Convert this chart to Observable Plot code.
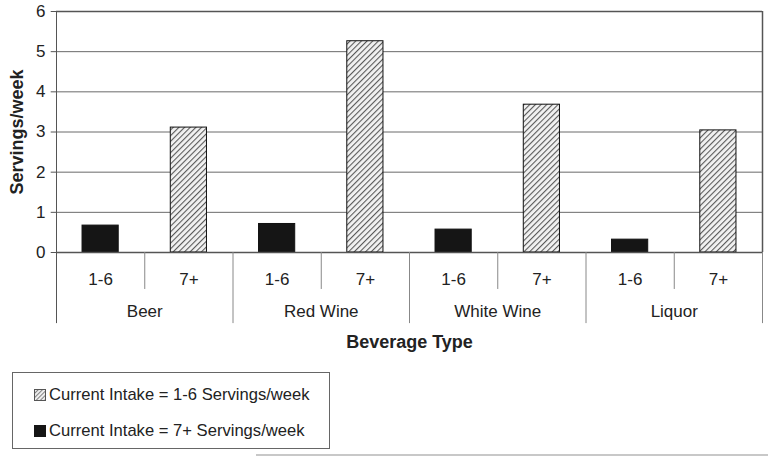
<!DOCTYPE html>
<html>
<head>
<meta charset="utf-8">
<script src="https://cdn.jsdelivr.net/npm/d3@7"></script>
<script src="https://cdn.jsdelivr.net/npm/@observablehq/plot@0.6"></script>
<style>
  html, body { margin: 0; padding: 0; background: #fff; }
  body { position: relative; width: 768px; height: 457px; overflow: hidden; font-family: "Liberation Sans", Arial, sans-serif; }
  #legend { position: absolute; left: 12px; top: 372px; width: 318px; height: 77px; border: 1px solid #666; box-sizing: border-box; font-size: 16.6px; color: #222; }
  .item { position: absolute; left: 21px; display: flex; align-items: center; line-height: 20px; }
  .sw { width: 12px; height: 12px; margin-right: 3px; box-sizing: border-box; flex: none; }
  #bottomline { position: absolute; left: 256px; top: 454px; width: 512px; height: 2px; background: #c8c8c8; }
</style>
</head>
<body>
<div id="chart"></div>
<div id="legend">
  <div class="item" style="top:12px"><svg class="sw" width="12" height="12"><defs><pattern id="hatchL" patternUnits="userSpaceOnUse" width="3" height="3" patternTransform="rotate(45)"><rect width="3" height="3" fill="#eee"/><line x1="0" y1="0" x2="0" y2="3" stroke="#666" stroke-width="1.6"/></pattern></defs><rect x="0.5" y="0.5" width="11" height="11" fill="url(#hatchL)" stroke="#555"/></svg><span>Current Intake = 1-6 Servings/week</span></div>
  <div class="item" style="top:48px"><div class="sw" style="background:#151515"></div><span>Current Intake = 7+ Servings/week</span></div>
</div>
<div id="bottomline"></div>
<script>
const beverages = ["Beer", "Red Wine", "White Wine", "Liquor"];
const intakeLabels = ["1-6", "7+"];
const values16 = [0.67, 0.71, 0.57, 0.32];
const values7 = [3.11, 5.26, 3.68, 3.04];
const yTicks = [0, 1, 2, 3, 4, 5, 6];
const axisTitleX = "Beverage Type";
const axisTitleY = "Servings/week";

const rows = [];
beverages.forEach((b, bi) => {
  rows.push({beverage: b, intake: intakeLabels[0], value: values16[bi], i: bi * 2});
  rows.push({beverage: b, intake: intakeLabels[1], value: values7[bi], i: bi * 2 + 1});
});
const groups = beverages.map((b, bi) => ({beverage: b, i: bi * 2}));
const pad = 0.295;

const plot = Plot.plot({
  width: 768,
  height: 360,
  marginLeft: 56,
  marginRight: 6,
  marginTop: 11,
  marginBottom: 108,
  style: {fontFamily: "'Liberation Sans', Arial, sans-serif", fontSize: "17px", color: "#222", background: "#fff", overflow: "visible"},
  x: {type: "linear", domain: [0, 8], axis: null},
  y: {domain: [0, 6], axis: null},
  marks: [
    Plot.ruleY(yTicks.filter(t => t > 0 && t < 6), {stroke: "#6a6a6a", strokeWidth: 1}),
    Plot.rectY(rows, {
      x1: d => d.i + pad, x2: d => d.i + 1 - pad, y1: 0, y2: "value",
      fill: d => d.intake === "1-6" ? "#151515" : "url(#hatch)",
      stroke: "#111", strokeWidth: 1
    }),
    Plot.ruleY([6], {stroke: "#555", strokeWidth: 1.5}),
    Plot.ruleY([0], {stroke: "#555", strokeWidth: 1.5}),
    Plot.ruleX([8], {y1: 0, y2: 6, stroke: "#555", strokeWidth: 1.5}),
    Plot.ruleX([0], {y1: -1.77, y2: 6, stroke: "#555", strokeWidth: 1}),
    Plot.ruleX(groups, {x: d => d.i + 1, y1: 0, y2: -0.92, stroke: "#888", strokeWidth: 1}),
    Plot.ruleX(groups, {x: d => d.i + 2, y1: 0, y2: -1.77, stroke: "#888", strokeWidth: 1}),
    Plot.ruleY(yTicks, {x1: -0.06, x2: 0, stroke: "#555", strokeWidth: 1}),
    Plot.text(yTicks, {y: d => d, frameAnchor: "left", dx: -11, textAnchor: "end", text: d => String(d), fontSize: 17}),
    Plot.text(rows, {x: d => d.i + 0.5, y: -0.67, text: "intake", fontSize: 17}),
    Plot.text(groups, {x: d => d.i + 1, y: -1.47, text: "beverage", fontSize: 17}),
    Plot.text([axisTitleX], {x: 4, y: -2.24, text: d => d, fontSize: 18, fontWeight: "bold"}),
    Plot.text([axisTitleY], {y: 3, frameAnchor: "left", dx: -39, textAnchor: "middle", rotate: -90, text: d => d, fontSize: 18, fontWeight: "bold"})
  ]
});

const ns = "http://www.w3.org/2000/svg";
const defs = document.createElementNS(ns, "defs");
defs.innerHTML = '<pattern id="hatch" patternUnits="userSpaceOnUse" width="4" height="4" patternTransform="rotate(45)"><rect width="4" height="4" fill="#f2f2f2"/><line x1="0" y1="0" x2="0" y2="4" stroke="#5a5a5a" stroke-width="2.2"/></pattern>';
plot.insertBefore(defs, plot.firstChild);
document.getElementById("chart").appendChild(plot);
</script>
</body>
</html>
